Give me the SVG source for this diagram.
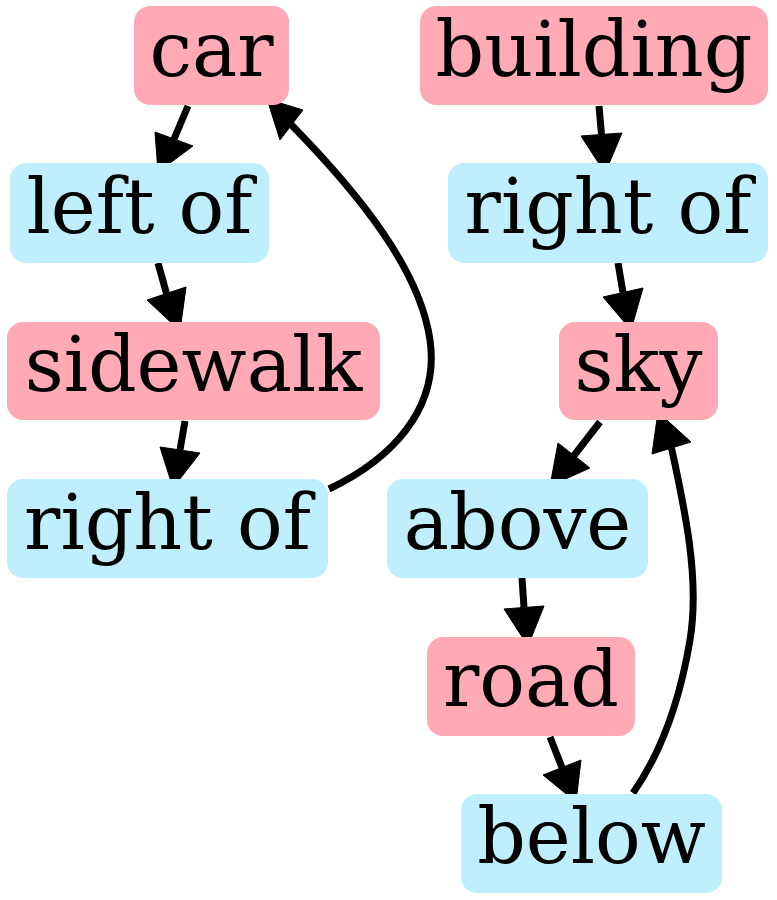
<svg xmlns="http://www.w3.org/2000/svg" width="777" height="900" viewBox="0 0 777 900">
<style>
.obj{fill:#ffaab5;}
.rel{fill:#bfeefd;}
text{font-family:"DejaVu Serif",serif;font-size:76px;fill:#000;text-anchor:middle;}
.e{fill:none;stroke:#000;stroke-width:7;}
.h{fill:#000;stroke:#000;stroke-width:1;}
</style>
<rect width="777" height="900" fill="#fff"/>
<g id="connectors">
<path class="e" d="M188,106 L174,139"/>
<polygon class="h" points="158,172 155,132 193,146"/>
<path class="e" d="M158,263 L166.5,293.5"/>
<polygon class="h" points="180,331 147,300 186,287"/>
<path class="e" d="M185,421 L180,450"/>
<polygon class="h" points="173,488 160,447 200,453"/>
<path class="e" d="M329,489 C390,460 440,410 430,340 C420,270 360,195 291.5,125"/>
<polygon class="h" points="267,99 280,140 303,110"/>
<path class="e" d="M599,106 L601.5,134.5"/>
<polygon class="h" points="605,173 581,136 622,133"/>
<path class="e" d="M618,263 L623,292.5"/>
<polygon class="h" points="631,330 603,297 643,288"/>
<path class="e" d="M600,422 L574,455.5"/>
<polygon class="h" points="550,486 558,443 590,468"/>
<path class="e" d="M522,578 L524,607.5"/>
<polygon class="h" points="528,646 504,609 544,606"/>
<path class="e" d="M550,737 L562,767.5"/>
<polygon class="h" points="576,802 543,775 581,760"/>
<path class="e" d="M633,793 C663,750 680,700 690,640 C700,580 685,510 671.5,448"/>
<polygon class="h" points="658,412 652,454 691,442"/>
</g>
<g id="car"><rect class="obj" x="134" y="6" width="155" height="99" rx="16"/><text x="211.5" y="75.5">car</text></g>
<g id="building"><rect class="obj" x="420" y="6" width="348" height="99" rx="16"/><text x="594" y="75.5">building</text></g>
<g id="left_of"><rect class="rel" x="10" y="163" width="259" height="100" rx="16"/><text x="139.5" y="233">left of</text></g>
<g id="right_of_1"><rect class="rel" x="448" y="163" width="320" height="100" rx="16"/><text x="608" y="233">right of</text></g>
<g id="sidewalk"><rect class="obj" x="7" y="322" width="373" height="98" rx="16"/><text x="193.5" y="391">sidewalk</text></g>
<g id="sky"><rect class="obj" x="559" y="322" width="159" height="98" rx="16"/><text x="638.5" y="391">sky</text></g>
<g id="right_of_2"><rect class="rel" x="7" y="479" width="321" height="99" rx="16"/><text x="167.5" y="548.5">right of</text></g>
<g id="above"><rect class="rel" x="387" y="479" width="261" height="99" rx="16"/><text x="517.5" y="548.5">above</text></g>
<g id="road"><rect class="obj" x="427" y="637" width="208" height="99" rx="16"/><text x="531" y="706">road</text></g>
<g id="below"><rect class="rel" x="461" y="794" width="261" height="99" rx="16"/><text x="591.5" y="863">below</text></g>
</svg>
